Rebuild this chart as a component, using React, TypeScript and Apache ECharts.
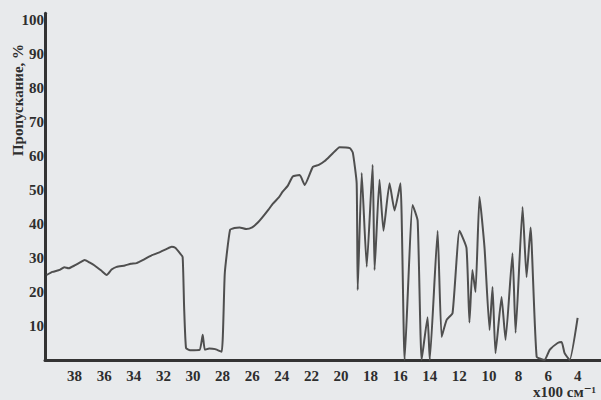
import React, { useEffect, useRef } from "react";
import * as echarts from "echarts";

// wavenumber (x100 cm^-1) and transmittance (%)
const wavenumbers = [
  39.89, 39.5, 39.01, 38.7, 38.4, 38.0, 37.6, 37.32, 37.0, 36.65, 36.2, 35.83, 35.5, 35.16, 34.6,
  34.2, 33.81, 33.3, 32.73, 32.2, 31.8, 31.44, 31.2, 30.9, 30.7, 30.6, 30.47, 30.2,
  29.55, 29.34, 29.2, 28.9, 28.5, 28.06, 27.85, 27.5, 27.2, 26.85, 26.4, 26.0, 25.6, 25.3, 24.9, 24.6,
  24.2, 23.94, 23.6, 23.26, 22.79, 22.45, 21.9, 21.5, 21.1, 20.6, 20.09, 19.4, 19.2, 18.94, 18.87, 18.6,
  18.26, 17.86, 17.73, 17.4, 17.13, 16.72, 16.38, 15.98, 15.7, 15.16, 14.82, 14.55, 14.15, 14.0, 13.47,
  13.2, 12.86, 12.46, 11.99, 11.52, 11.32, 11.12, 10.91, 10.64, 10.3, 9.96, 9.76, 9.56, 9.15, 8.88,
  8.41, 8.2, 7.73, 7.46, 7.19, 6.78, 6.24, 5.9, 5.36, 5.09, 4.89, 4.55, 4.01,
];
const transmittance = [
  25, 25.9, 26.5, 27.3, 27.0, 27.8, 28.8, 29.4, 28.7, 27.8, 26.3, 25, 26.6, 27.4, 27.8,
  28.3, 28.5, 29.6, 30.9, 31.8, 32.6, 33.3, 33.0, 31.5, 30.3, 15.6, 3.5, 2.9,
  3, 7.4, 3, 3.4, 3.2, 2.4, 25.6, 38.2, 38.8, 39, 38.5, 39, 40.5, 42, 44.2, 46,
  47.8, 49.5, 51.2, 54, 54.4, 51.5, 56.8, 57.4, 58.5, 60.6, 62.6, 62.3, 61, 52, 20.6, 55,
  27.4, 57.4, 26.5, 53, 38, 52, 44, 52, 0, 45.6, 41, 0, 12.6, 0, 38,
  6.8, 11.8, 13.8, 38, 33, 11, 26.5, 20, 48, 33, 8.8, 21.5, 2, 18.5, 5.9,
  31.4, 8, 45, 24.4, 39, 1, 0, 3, 5, 5.3, 2, 0, 12.4,
];
const xTickLabels = [38, 36, 34, 32, 30, 28, 26, 24, 22, 20, 18, 16, 14, 12, 10, 8, 6, 4];
const yTickLabels = [10, 20, 30, 40, 50, 60, 70, 80, 90, 100];

export default function App() {
  const ref = useRef<HTMLDivElement>(null);
  useEffect(() => {
    document.body.style.margin = "0";
    if (!ref.current) return;
    const chart = echarts.init(ref.current, null, { renderer: "svg" });
    const font = "'Liberation Serif', 'DejaVu Serif', serif";
    chart.setOption({
      animation: false,
      backgroundColor: "#e8eaec",
      grid: { left: 45, right: 0, top: 13.2, bottom: 40 },
      xAxis: {
        type: "value",
        inverse: true,
        min: 2.43,
        max: 40,
        axisLine: { show: true, lineStyle: { color: "#333", width: 3 } },
        axisTick: { show: false },
        splitLine: { show: false },
        axisLabel: {
          customValues: xTickLabels,
          color: "#2e2e2e",
          fontFamily: font,
          fontWeight: "bold",
          fontSize: 15,
          margin: 8,
        },
      },
      yAxis: {
        type: "value",
        min: 0,
        max: 102,
        axisLine: { show: true, lineStyle: { color: "#333", width: 3 } },
        axisTick: { show: false },
        splitLine: { show: false },
        axisLabel: {
          customValues: yTickLabels,
          color: "#2e2e2e",
          fontFamily: font,
          fontWeight: "bold",
          fontSize: 15,
          margin: 1,
        },
      },
      graphic: [
        {
          type: "text",
          x: 18,
          y: 100,
          rotation: Math.PI / 2,
          style: {
            text: "Пропускание, %",
            fill: "#2e2e2e",
            font: `bold 15px ${font}`,
            align: "center",
            verticalAlign: "middle",
          },
        },
        {
          type: "text",
          x: 533,
          y: 392,
          style: {
            text: "x100 см⁻¹",
            fill: "#2e2e2e",
            font: `bold 15px ${font}`,
            align: "left",
            verticalAlign: "middle",
          },
        },
      ],
      series: [
        {
          type: "line",
          data: wavenumbers.map((w, i) => [w, transmittance[i]]),
          showSymbol: false,
          smooth: 0.15,
          lineStyle: { color: "#4f4f4f", width: 2 },
        },
      ],
    });
    return () => chart.dispose();
  }, []);
  return (
    <div
      ref={ref}
      style={{ position: "fixed", left: 0, top: 0, width: 601, height: 400 }}
    />
  );
}
